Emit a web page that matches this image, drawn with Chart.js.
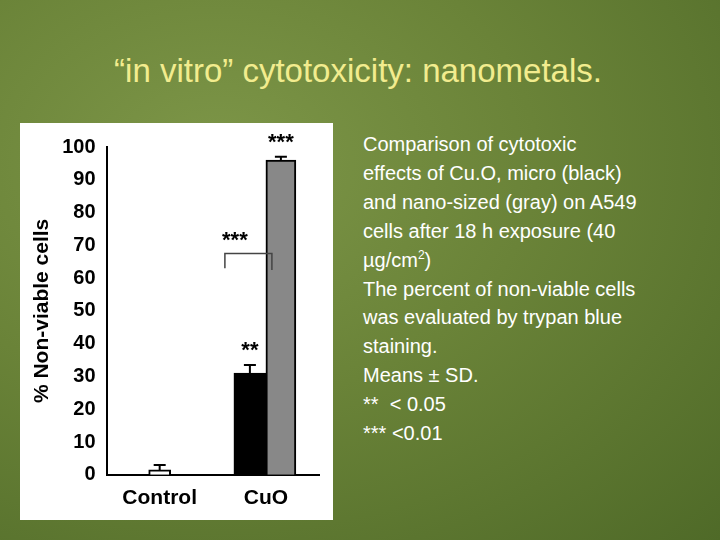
<!DOCTYPE html>
<html><head><meta charset="utf-8">
<script src="https://cdn.jsdelivr.net/npm/chart.js@4"></script>
<style>
body{margin:0;width:720px;height:540px;overflow:hidden;font-family:Arial,"Liberation Sans",sans-serif;
background:radial-gradient(ellipse at 30% 30%,#7d9648 0%,#6a8338 45%,#4f6a28 100%);position:relative}
#title{position:absolute;left:0;width:716px;top:52px;text-align:center;color:#f2ec8e;font-size:33px}
#panel{position:absolute;left:20px;top:123px;width:313px;height:397px;background:#fff}
#txt{position:absolute;left:363px;top:130px;width:275px;color:#fff;font-size:20px;line-height:28.9px}
sup{font-size:12px;line-height:0}
</style></head><body>
<div id="title">“in vitro” cytotoxicity: nanometals.</div>
<div id="panel"><canvas id="c" width="313" height="397"></canvas></div>
<div id="txt">Comparison of cytotoxic effects of Cu.O, micro (black) and nano-sized (gray) on A549 cells after 18 h exposure (40 µg/cm<sup>2</sup>)<br>The percent of non-viable cells was evaluated by trypan blue staining.<br>Means ± SD.<br>**&nbsp; &lt; 0.05<br>*** &lt;0.01</div>
<script>
const categories = ["Control", "CuO"];
const controlVals = [1.5, null];
const microVals = [null, 31];
const nanoVals = [null, 96];
const controlErr = [1.5, null];
const microErr = [null, 2.5];
const nanoErr = [null, 1];
const yTicks = [0,10,20,30,40,50,60,70,80,90,100];

const overlay = {
  id: 'overlay',
  afterDatasetsDraw(chart) {
    const c = chart.ctx, y = chart.scales.y;
    const errs = [controlErr, microErr, nanoErr];
    c.save();
    c.strokeStyle = '#000'; c.lineWidth = 2;
    const centers = [];
    chart.data.datasets.forEach((ds, di) => {
      chart.getDatasetMeta(di).data.forEach((bar, i) => {
        if (ds.data[i] == null) return;
        const top = y.getPixelForValue(ds.data[i]);
        const e = y.getPixelForValue(ds.data[i] + errs[di][i]);
        c.beginPath(); c.moveTo(bar.x, top); c.lineTo(bar.x, e);
        c.moveTo(bar.x - 6, e); c.lineTo(bar.x + 6, e); c.stroke();
        centers[di] = bar.x;
      });
    });
    c.fillStyle = '#000'; c.font = 'bold 22px Arial'; c.textAlign = 'center';
    c.fillText('**', centers[1], y.getPixelForValue(36));
    c.fillText('***', centers[2], y.getPixelForValue(99.5));
    c.fillText('***', centers[1] - 15, y.getPixelForValue(69.5));
    c.lineWidth = 1.5; c.strokeStyle = '#444';
    const bx1 = centers[1] - 25, bx2 = centers[2] - 9;
    c.beginPath();
    c.moveTo(bx1, y.getPixelForValue(63)); c.lineTo(bx1, y.getPixelForValue(67.5));
    c.lineTo(bx2, y.getPixelForValue(67.5)); c.lineTo(bx2, y.getPixelForValue(62.5)); c.stroke();
    c.restore();
  }
};

new Chart(document.getElementById('c'), {
  type: 'bar',
  data: {
    labels: categories,
    datasets: [
      { data: controlVals, backgroundColor: '#fff', borderColor: '#000', borderWidth: 2, barThickness: 22 },
      { data: microVals, backgroundColor: '#000', borderColor: '#000', borderWidth: 2, barThickness: 32 },
      { data: nanoVals, backgroundColor: '#888', borderColor: '#000', borderWidth: 2, barThickness: 30 }
    ]
  },
  options: {
    responsive: false, animation: false, skipNull: true,
    layout: { padding: { top: 24, right: 14, left: 6, bottom: 6 } },
    plugins: { legend: { display: false }, tooltip: { enabled: false } },
    scales: {
      x: { grid: { display: false }, border: { color: '#000', width: 2 },
           ticks: { color: '#000', font: { size: 21, weight: 'bold', family: 'Arial' } } },
      y: { min: 0, max: 100, afterBuildTicks: a => { a.ticks = yTicks.map(v => ({ value: v })); },
           grid: { display: false }, border: { color: '#000', width: 2 },
           ticks: { color: '#000', font: { size: 20, weight: 'bold', family: 'Arial' } },
           title: { display: true, text: '% Non-viable cells', color: '#000', font: { size: 21, weight: 'bold', family: 'Arial' } } }
    }
  },
  plugins: [overlay]
});
</script>
</body></html>
